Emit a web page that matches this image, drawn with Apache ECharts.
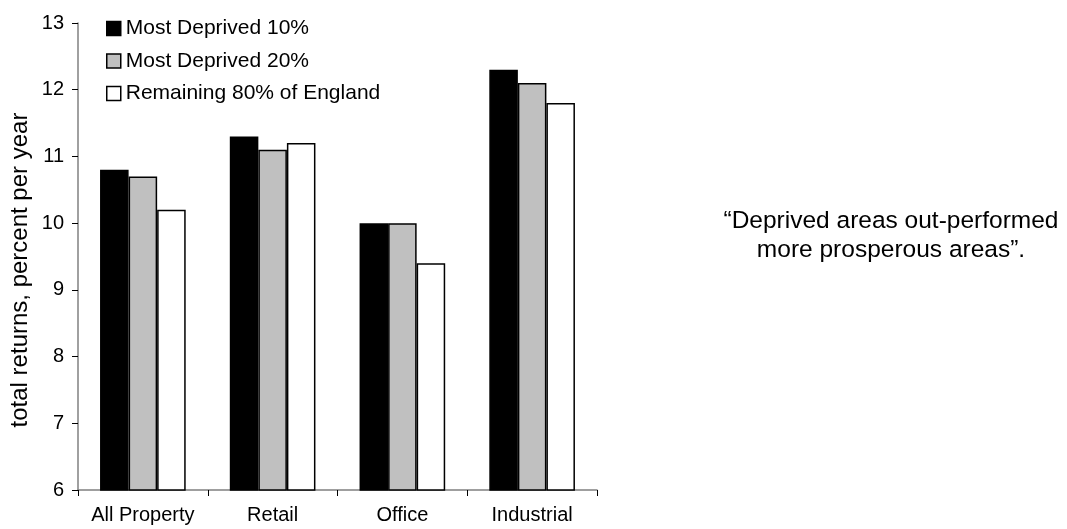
<!DOCTYPE html>
<html>
<head>
<meta charset="utf-8">
<script src="https://cdn.jsdelivr.net/npm/echarts@6/dist/echarts.min.js"></script>
<style>
  html, body { margin: 0; padding: 0; background: #fff; }
  #chart { width: 1067px; height: 529px; }
</style>
</head>
<body>
<div id="chart"></div>
<script>
// Property types along the x axis
const categories = ['All Property', 'Retail', 'Office', 'Industrial'];

// Total returns, percent per year, by area group
const deprived10 = [10.8, 11.3, 10.0, 12.3];
const deprived20 = [10.7, 11.1, 10.0, 12.1];
const remaining80 = [10.2, 11.2, 9.4, 11.8];

const seriesNames = ['Most Deprived 10%', 'Most Deprived 20%', 'Remaining 80% of England'];
const yTicks = [6, 7, 8, 9, 10, 11, 12, 13];

const yAxisTitle = 'total returns, percent per year';
const quote = '\u201CDeprived areas out-performed\nmore prosperous areas\u201D.';

const font = 'Arial, "Liberation Sans", sans-serif';

const chart = echarts.init(document.getElementById('chart'), null, { renderer: 'canvas' });

function barSeries(name, data, color) {
  return {
    name: name,
    type: 'bar',
    data: data,
    barGap: '0%',
    barCategoryGap: '34%',
    itemStyle: { color: color, borderColor: '#000', borderWidth: 1.5 },
    emphasis: { disabled: true }
  };
}

chart.setOption({
  animation: false,
  grid: { left: 78, right: 470, top: 23, bottom: 39, containLabel: false },
  legend: {
    orient: 'vertical',
    left: 101,
    top: 13,
    itemWidth: 14,
    itemHeight: 14,
    itemGap: 11.5,
    icon: 'rect',
    textStyle: { fontFamily: font, fontSize: 21, lineHeight: 21, color: '#000', padding: [0, 0, 0, 0] },
    data: seriesNames.map(n => ({ name: n, itemStyle: { borderColor: '#000', borderWidth: 1.5 } }))
  },
  xAxis: {
    type: 'category',
    data: categories,
    axisLine: { lineStyle: { color: '#808080', width: 1.5 } },
    axisTick: { show: true, length: 6, interval: 0, lineStyle: { color: '#000' } },
    axisLabel: { fontFamily: font, fontSize: 20, color: '#000', margin: 15, interval: 0 }
  },
  yAxis: {
    type: 'value',
    min: yTicks[0],
    max: yTicks[yTicks.length - 1],
    interval: 1,
    axisLine: { show: true, lineStyle: { color: '#808080', width: 1.5 } },
    axisTick: { show: true, length: 6, lineStyle: { color: '#000' } },
    axisLabel: { fontFamily: font, fontSize: 20, color: '#000', margin: 14 },
    splitLine: { show: false }
  },
  series: [
    barSeries(seriesNames[0], deprived10, '#000000'),
    barSeries(seriesNames[1], deprived20, '#c0c0c0'),
    barSeries(seriesNames[2], remaining80, '#ffffff')
  ],
  graphic: [
    {
      type: 'text',
      x: 20,
      y: 270,
      rotation: Math.PI / 2,
      style: {
        text: yAxisTitle,
        font: '24px ' + font,
        fill: '#000',
        align: 'center',
        verticalAlign: 'middle'
      }
    },
    {
      type: 'text',
      x: 891,
      y: 236,
      style: {
        text: quote,
        font: '24.5px ' + font,
        fill: '#000',
        align: 'center',
        verticalAlign: 'middle',
        lineHeight: 29
      }
    }
  ]
});
</script>
</body>
</html>
